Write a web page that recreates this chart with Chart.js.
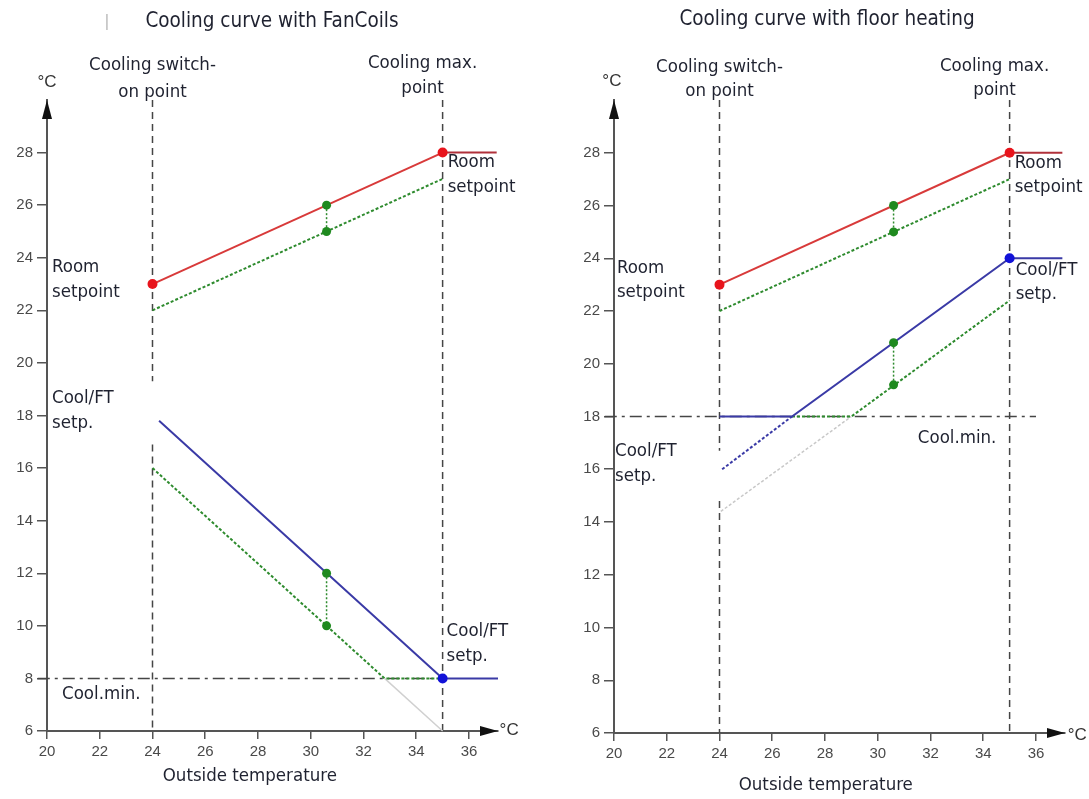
<!DOCTYPE html>
<html><head><meta charset="utf-8">
<script src="https://cdn.jsdelivr.net/npm/chart.js@4.4.1/dist/chart.umd.min.js"></script>
<style>
html,body{margin:0;padding:0;background:#fff;overflow:hidden}
#wrap{position:relative;width:1089px;height:799px;background:#fff}
canvas{position:absolute;top:0}
</style></head><body>
<div id="wrap">
<canvas id="c1" width="545" height="799" style="left:0"></canvas>
<canvas id="c2" width="544" height="799" style="left:545px"></canvas>
</div>
<script>
// ---- shared tick labels ----
const xTicks = [20,22,24,26,28,30,32,34,36];
const yTicks = [6,8,10,12,14,16,18,20,22,24,26,28];

// ---- Chart 1: FanCoils ----
const fcRoomSet   = [[24,23],[35,28]];
const fcRoomFlat  = [[35,28],[37.05,28]];
const fcRoomLow   = [[24,22],[35,27]];
const fcRoomBand  = [[30.6,26],[30.6,25]];
const fcFlow      = [[24.25,17.8],[35,8],[37.1,8]];
const fcFlowLow   = [[24,16],[32.8,8],[35,8]];
const fcFlowGhost = [[32.8,8],[35,6]];
const fcFlowBand  = [[30.6,12],[30.6,10]];
const fcRedDots   = [[24,23],[35,28]];
const fcBlueDots  = [[35,8]];
const fcCoolMin   = [[19.65,8],[35,8]];
const fcSwitchA   = [[24,30],[24,19.3]];
const fcSwitchB   = [[24,16.9],[24,6]];
const fcMaxLine   = [[35,30],[35,6]];

// ---- Chart 2: floor heating ----
const fhRoomSet   = [[24,23],[35,28]];
const fhRoomFlat  = [[35,28],[37,28]];
const fhRoomLow   = [[24,22],[35,27]];
const fhRoomBand  = [[30.6,26],[30.6,25]];
const fhFlow      = [[24,18],[26.75,18],[35,24],[37,24]];
const fhFlowCalc  = [[24.1,16],[26.75,18]];
const fhFlowLow   = [[26.75,18],[29,18],[35,22.4]];
const fhFlowGhost = [[24.05,14.4],[29,18]];
const fhFlowBand  = [[30.6,20.8],[30.6,19.2]];
const fhRedDots   = [[24,23],[35,28]];
const fhBlueDots  = [[35,24]];
const fhCoolMin   = [[19.65,18],[36,18]];
const fhSwitchA   = [[24,30],[24,16.7]];
const fhSwitchB   = [[24,14.8],[24,6]];
const fhMaxLine   = [[35,30],[35,6]];

const RED='#d83a3a', RED_D='#b0303a', GREEN='#2e8b2e', BLUE='#3a3aa6', GREY='#454545';
const LBL_FONT = '"DejaVu Sans Condensed","Liberation Sans Narrow","DejaVu Sans",sans-serif';
const TXT='#1f2230';

const pts = a => a.map(p => ({x:p[0], y:p[1]}));
function line(data, color, width, dash, extra){
  return Object.assign({data:pts(data), showLine:true, borderColor:color, backgroundColor:color,
    borderWidth:width, borderDash:dash||[], pointRadius:0, pointHoverRadius:0, clip:false, tension:0}, extra||{});
}
function dots(data, color, r){
  return {data:pts(data), showLine:false, pointRadius:r, pointBackgroundColor:color, pointBorderColor:color,
    pointBorderWidth:0, backgroundColor:color, clip:false, order:-1};
}

const textPlugin = {
  id:'txt',
  afterDraw(chart, args, opts){
    const ctx = chart.ctx, xs = chart.scales.x, ys = chart.scales.y, ca = chart.chartArea;
    ctx.save();
    // axis arrows
    ctx.fillStyle = '#111';
    ctx.beginPath();
    ctx.moveTo(ca.left, ca.top); ctx.lineTo(ca.left-5, ca.top+19); ctx.lineTo(ca.left+5, ca.top+19); ctx.closePath(); ctx.fill();
    ctx.beginPath();
    ctx.moveTo(ca.right, ca.bottom); ctx.lineTo(ca.right-18, ca.bottom-5); ctx.lineTo(ca.right-18, ca.bottom+5); ctx.closePath(); ctx.fill();
    // title
    ctx.textBaseline = 'middle';
    ctx.fillStyle = TXT;
    ctx.font = '20.5px ' + LBL_FONT;
    ctx.textAlign = 'center';
    ctx.fillText(opts.title.text, opts.title.px, opts.title.py);
    if (opts.mark){ ctx.fillStyle='#b0b0b0'; ctx.font='16px '+LBL_FONT; ctx.fillText('|', opts.mark.px, opts.mark.py); }
    for (const l of opts.labels){
      ctx.font = (l.size||18.5) + 'px ' + (l.fam || LBL_FONT);
      ctx.fillStyle = l.color || TXT;
      ctx.textAlign = l.align || 'left';
      ctx.fillText(l.t, xs.getPixelForValue(l.x), ys.getPixelForValue(l.y));
    }
    ctx.restore();
  }
};

function makeChart(id, datasets, lay, txt){
  return new Chart(document.getElementById(id), {
    type:'scatter',
    data:{datasets},
    plugins:[textPlugin],
    options:{
      responsive:false, animation:false, events:[],
      layout:{padding:{top:lay.top, right:lay.right, left:0, bottom:0}},
      plugins:{legend:{display:false}, tooltip:{enabled:false}, txt},
      scales:{
        x:{type:'linear', min:20, max:37.1,
          afterBuildTicks:a=>{a.ticks = xTicks.map(v=>({value:v}));},
          afterFit:a=>{a.height = lay.xh;},
          grid:{drawOnChartArea:false, drawTicks:true, tickLength:8, color:'#555', lineWidth:1.5},
          border:{display:true, color:'#555', width:2},
          ticks:{color:'#4a4a4a', font:{family:'"Liberation Sans",Arial,sans-serif', size:15}, padding:4, maxRotation:0, autoSkip:false}
        },
        y:{type:'linear', min:6, max:30,
          afterBuildTicks:a=>{a.ticks = yTicks.map(v=>({value:v}));},
          afterFit:a=>{a.width = lay.yw;},
          grid:{drawOnChartArea:false, drawTicks:true, tickLength:10, color:'#555', lineWidth:1.5},
          border:{display:true, color:'#555', width:2},
          ticks:{color:'#4a4a4a', font:{family:'"Liberation Sans",Arial,sans-serif', size:15}, padding:4, autoSkip:false}
        }
      }
    }
  });
}

const DASH_V=[7,5], DASH_DOT=[12,5,3,5], DOT=[3,2];
const DEG = {size:17, fam:'"Liberation Sans",Arial,sans-serif', color:'#333'};

makeChart('c1', [
  dots(fcRedDots, '#e8141c', 5),
  dots(fcBlueDots, '#1212d8', 5),
  dots(fcRoomBand, '#1f8a1f', 4.5),
  dots(fcFlowBand, '#1f8a1f', 4.5),
  line(fcRoomSet, RED, 2),
  line(fcRoomFlat, RED_D, 2),
  line(fcRoomLow, GREEN, 2, DOT),
  line(fcRoomBand, GREEN, 1.5, [2,2]),
  line(fcFlow, BLUE, 2),
  line(fcFlowLow, GREEN, 2, DOT),
  line(fcFlowBand, GREEN, 1.5, [2,2]),
  line(fcFlowGhost, '#d0d0d0', 1.5),
  line(fcCoolMin, GREY, 1.5, DASH_DOT),
  line(fcSwitchA, GREY, 1.5, DASH_V),
  line(fcSwitchB, GREY, 1.5, DASH_V),
  line(fcMaxLine, GREY, 1.5, DASH_V)
], {top:100, right:47, xh:68, yw:47}, {
  title:{text:'Cooling curve with FanCoils', px:272, py:22},
  mark:{px:107, py:22},
  labels:[
    {t:'Cooling switch-', x:24, y:31.32, align:'center'},
    {t:'on point', x:24, y:30.3, align:'center'},
    {t:'Cooling max.', x:34.24, y:31.4, align:'center'},
    {t:'point', x:34.24, y:30.45, align:'center'},
    Object.assign({t:'°C', x:20, y:30.68, align:'center'}, DEG),
    {t:'Room', x:20.19, y:23.64},
    {t:'setpoint', x:20.19, y:22.69},
    {t:'Cool/FT', x:20.19, y:18.66},
    {t:'setp.', x:20.19, y:17.71},
    {t:'Room', x:35.19, y:27.63},
    {t:'setpoint', x:35.19, y:26.68},
    {t:'Cool/FT', x:35.15, y:9.8},
    {t:'setp.', x:35.15, y:8.85},
    {t:'Cool.min.', x:20.57, y:7.41},
    {t:'Outside temperature', x:27.69, y:4.29, align:'center'},
    Object.assign({t:'°C', x:37.16, y:6.04}, DEG)
  ]
});

makeChart('c2', [
  dots(fhRedDots, '#e8141c', 5),
  dots(fhBlueDots, '#1212d8', 5),
  dots(fhRoomBand, '#1f8a1f', 4.5),
  dots(fhFlowBand, '#1f8a1f', 4.5),
  line(fhRoomSet, RED, 2),
  line(fhRoomFlat, RED_D, 2),
  line(fhRoomLow, GREEN, 2, DOT),
  line(fhRoomBand, GREEN, 1.5, [2,2]),
  line(fhFlow, BLUE, 2),
  line(fhFlowCalc, BLUE, 2, DOT),
  line(fhFlowLow, GREEN, 2, DOT),
  line(fhFlowBand, GREEN, 1.5, [2,2]),
  line(fhFlowGhost, '#c8c8c8', 1.5, DOT),
  line(fhCoolMin, GREY, 1.5, DASH_DOT),
  line(fhSwitchA, GREY, 1.5, DASH_V),
  line(fhSwitchB, GREY, 1.5, DASH_V),
  line(fhMaxLine, GREY, 1.5, DASH_V)
], {top:100, right:24, xh:66, yw:69}, {
  title:{text:'Cooling curve with floor heating', px:282, py:20},
  labels:[
    {t:'Cooling switch-', x:24, y:31.23, align:'center'},
    {t:'on point', x:24, y:30.32, align:'center'},
    {t:'Cooling max.', x:34.43, y:31.3, align:'center'},
    {t:'point', x:34.43, y:30.39, align:'center'},
    Object.assign({t:'°C', x:19.92, y:30.7, align:'center'}, DEG),
    {t:'Room', x:20.11, y:23.64},
    {t:'setpoint', x:20.11, y:22.73},
    {t:'Cool/FT', x:20.04, y:16.7},
    {t:'setp.', x:20.04, y:15.75},
    {t:'Room', x:35.19, y:27.6},
    {t:'setpoint', x:35.19, y:26.71},
    {t:'Cool/FT', x:35.23, y:23.56},
    {t:'setp.', x:35.23, y:22.65},
    {t:'Cool.min.', x:31.52, y:17.19},
    {t:'Outside temperature', x:28.03, y:4.03, align:'center'},
    Object.assign({t:'°C', x:37.2, y:5.92}, DEG)
  ]
});
</script>
</body></html>
